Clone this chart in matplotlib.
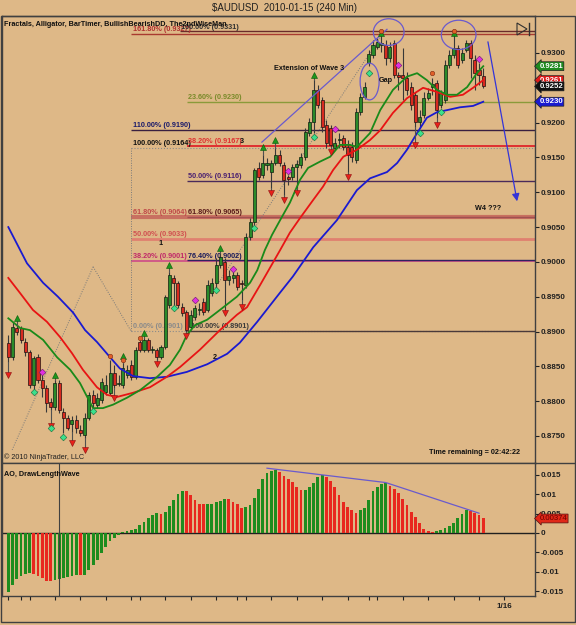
import matplotlib
matplotlib.use('Agg')
import matplotlib.pyplot as plt
import matplotlib.transforms as mtransforms
from matplotlib.patches import Ellipse, Rectangle, Polygon
from matplotlib.lines import Line2D
import numpy as np

W, H = 576, 625
BG = '#DEB887'
FONT = ['Liberation Sans', 'DejaVu Sans']
plt.rcParams['font.family'] = FONT

# ---------------- data ----------------
opens = [0.8884, 0.8863, 0.8905, 0.8905, 0.8885, 0.8871, 0.8823, 0.8863, 0.8830, 0.8819,
         0.8799, 0.8792, 0.8826, 0.8784, 0.8776, 0.8767, 0.8773, 0.8759, 0.8751, 0.8776,
         0.8809, 0.8795, 0.8802, 0.8813, 0.8812, 0.8840, 0.8825, 0.8823, 0.8838, 0.8852,
         0.8835, 0.8885, 0.8874, 0.8888, 0.8874, 0.8874, 0.8863, 0.8878, 0.8938, 0.8977,
         0.8970, 0.8935, 0.8928, 0.8907, 0.8921, 0.8931, 0.8942, 0.8931, 0.8955, 0.8970,
         0.8996, 0.9000, 0.8974, 0.8977, 0.8981, 0.8970, 0.8967, 0.9036, 0.9057, 0.9135,
         0.9125, 0.9139, 0.9129, 0.9142, 0.9154, 0.9139, 0.9122, 0.9122, 0.9136, 0.9139,
         0.9151, 0.9185, 0.9201, 0.9247, 0.9233, 0.9197, 0.9192, 0.9164, 0.9175, 0.9178,
         0.9165, 0.9165, 0.9146, 0.9215, 0.9237, 0.9286, 0.9297, 0.9309, 0.9311, 0.9311,
         0.9293, 0.9314, 0.9268, 0.9268, 0.9264, 0.9251, 0.9240, 0.9201, 0.9211, 0.9235,
         0.9251, 0.9257, 0.9225, 0.9233, 0.9283, 0.9297, 0.9307, 0.9290, 0.9304, 0.9314,
         0.9290, 0.9276, 0.9267]
closes = [0.8863, 0.8907, 0.8899, 0.8888, 0.8871, 0.8823, 0.8862, 0.8830, 0.8819, 0.8797,
          0.8792, 0.8826, 0.8787, 0.8776, 0.8762, 0.8773, 0.8762, 0.8754, 0.8776, 0.8809,
          0.8797, 0.8805, 0.8828, 0.8823, 0.8840, 0.8823, 0.8826, 0.8848, 0.8845, 0.8835,
          0.8874, 0.8874, 0.8888, 0.8874, 0.8875, 0.8863, 0.8878, 0.8950, 0.8981, 0.8970,
          0.8938, 0.8927, 0.8902, 0.8924, 0.8934, 0.8932, 0.8928, 0.8967, 0.8970, 0.8996,
          0.9007, 0.8974, 0.8980, 0.8981, 0.8964, 0.8968, 0.9036, 0.9057, 0.9132, 0.9122,
          0.9142, 0.9142, 0.9142, 0.9154, 0.9142, 0.9118, 0.9119, 0.9136, 0.9141, 0.9151,
          0.9187, 0.9201, 0.9247, 0.9225, 0.9194, 0.9171, 0.9168, 0.9171, 0.9177, 0.9165,
          0.9154, 0.9151, 0.9215, 0.9237, 0.9251, 0.9299, 0.9311, 0.9316, 0.9314, 0.9293,
          0.9309, 0.9268, 0.9266, 0.9264, 0.9247, 0.9225, 0.9201, 0.9208, 0.9235, 0.9243,
          0.9255, 0.9218, 0.9243, 0.9283, 0.9297, 0.9307, 0.9283, 0.9300, 0.9314, 0.9293,
          0.9271, 0.9268, 0.9252]
highs = [0.8895, 0.8914, 0.8909, 0.8908, 0.8891, 0.8874, 0.8865, 0.8868, 0.8838, 0.8823,
         0.8805, 0.8830, 0.8830, 0.8790, 0.8780, 0.8779, 0.8780, 0.8766, 0.8783, 0.8813,
         0.8816, 0.8812, 0.8833, 0.8838, 0.8859, 0.8852, 0.8838, 0.8855, 0.8852, 0.8859,
         0.8878, 0.8888, 0.8891, 0.8891, 0.8879, 0.8876, 0.8881, 0.8952, 0.8986, 0.8981,
         0.8972, 0.8941, 0.8931, 0.8931, 0.8938, 0.8941, 0.8948, 0.8974, 0.8977, 0.9006,
         0.9013, 0.9006, 0.8988, 0.8986, 0.8986, 0.8974, 0.9042, 0.9063, 0.9135, 0.9144,
         0.9154, 0.9149, 0.9146, 0.9164, 0.9161, 0.9144, 0.9125, 0.9141, 0.9146, 0.9156,
         0.9192, 0.9207, 0.9261, 0.9254, 0.9237, 0.9204, 0.9197, 0.9178, 0.9185, 0.9182,
         0.9175, 0.9172, 0.9221, 0.9243, 0.9258, 0.9304, 0.9319, 0.9322, 0.9329, 0.9319,
         0.9316, 0.9319, 0.9273, 0.9307, 0.9273, 0.9258, 0.9244, 0.9218, 0.9244, 0.9250,
         0.9264, 0.9261, 0.9247, 0.9290, 0.9304, 0.9329, 0.9311, 0.9307, 0.9319, 0.9319,
         0.9297, 0.9286, 0.9278]
lows = [0.8856, 0.8859, 0.8895, 0.8884, 0.8865, 0.8819, 0.8816, 0.8826, 0.8806, 0.8784,
        0.8787, 0.8787, 0.8783, 0.8754, 0.8759, 0.8756, 0.8754, 0.8750, 0.8747, 0.8773,
        0.8792, 0.8790, 0.8797, 0.8809, 0.8809, 0.8819, 0.8822, 0.8819, 0.8833, 0.8830,
        0.8832, 0.8871, 0.8871, 0.8871, 0.8869, 0.8859, 0.8861, 0.8875, 0.8934, 0.8938,
        0.8934, 0.8922, 0.8899, 0.8902, 0.8917, 0.8924, 0.8924, 0.8928, 0.8951, 0.8963,
        0.8991, 0.8931, 0.8967, 0.8970, 0.8960, 0.8945, 0.8963, 0.9031, 0.9053, 0.9118,
        0.9120, 0.9132, 0.9106, 0.9139, 0.9138, 0.9096, 0.9111, 0.9118, 0.9106, 0.9135,
        0.9146, 0.9181, 0.9185, 0.9221, 0.9187, 0.9164, 0.9165, 0.9161, 0.9164, 0.9161,
        0.9129, 0.9144, 0.9142, 0.9211, 0.9234, 0.9281, 0.9293, 0.9306, 0.9301, 0.9283,
        0.9287, 0.9264, 0.9247, 0.9233, 0.9240, 0.9218, 0.9194, 0.9192, 0.9207, 0.9233,
        0.9240, 0.9207, 0.9221, 0.9228, 0.9278, 0.9293, 0.9278, 0.9286, 0.9301, 0.9264,
        0.9247, 0.9254, 0.9250]

# Alligator lines (bar position, price)
jaw_x = [0, 4.4, 8.2, 11.7, 15.3, 18.1, 20.9, 24.0, 26.3, 29.4, 33.4, 37.4, 42.1, 46.9, 51.6,
         54.6, 58.7, 64.1, 67.1, 71.9, 77.5, 82.2, 85.3, 89.3, 91.7, 94.0, 96.4, 98.7, 101.1,
         103.5, 106.5, 109.6, 112]
jaw_y = [0.9050, 0.8998, 0.8970, 0.8950, 0.8927, 0.8902, 0.8885, 0.8863, 0.8847, 0.8836,
         0.8833, 0.8835, 0.8842, 0.8853, 0.8868, 0.8884, 0.8914, 0.8956, 0.8979, 0.9021,
         0.9060, 0.9103, 0.9120, 0.9129, 0.9142, 0.9161, 0.9185, 0.9207, 0.9215, 0.9218,
         0.9222, 0.9224, 0.9230]
teeth_x = [0, 2.8, 5.8, 9.1, 12.2, 15.0, 17.6, 20.9, 23.3, 25.6, 29.4, 33.4, 37.4, 40.5, 45.2,
           49.9, 53.9, 56.3, 59.4, 64.1, 66.4, 68.8, 71.9, 74.2, 76.6, 79.0, 82.2, 85.3, 87.7,
           90.7, 94.0, 97.8, 101.1, 104.2, 107.2, 109.6, 112]
teeth_y = [0.8977, 0.8955, 0.8931, 0.8914, 0.8892, 0.8869, 0.8845, 0.8820, 0.8809, 0.8806,
           0.8812, 0.8820, 0.8835, 0.8849, 0.8874, 0.8902, 0.8924, 0.8935, 0.8967, 0.9017,
           0.9042, 0.9063, 0.9089, 0.9108, 0.9132, 0.9151, 0.9161, 0.9175, 0.9189, 0.9214,
           0.9235, 0.9250, 0.9244, 0.9237, 0.9240, 0.9250, 0.9261]
lips_x = [0, 2.8, 5.1, 8.2, 11.5, 14.6, 16.9, 18.6, 20.0, 22.3, 24.7, 28.0, 31.1, 35.1, 38.1,
          40.5, 42.1, 44.0, 46.9, 49.9, 53.9, 57.0, 58.7, 60.5, 62.2, 64.1, 66.4, 68.8, 70.7,
          73.5, 75.9, 78.2, 80.6, 82.2, 85.3, 87.7, 90.7, 94.0, 96.4, 98.7, 101.1, 103.5,
          105.8, 108.2, 110.5, 112]
lips_y = [0.8919, 0.8905, 0.8902, 0.8888, 0.8863, 0.8845, 0.8826, 0.8806, 0.8790, 0.8790,
          0.8795, 0.8805, 0.8816, 0.8835, 0.8852, 0.8874, 0.8895, 0.8909, 0.8917, 0.8931,
          0.8950, 0.8970, 0.8988, 0.9017, 0.9039, 0.9060, 0.9085, 0.9118, 0.9135, 0.9144,
          0.9151, 0.9168, 0.9168, 0.9165, 0.9185, 0.9218, 0.9247, 0.9266, 0.9271, 0.9261,
          0.9247, 0.9240, 0.9240, 0.9251, 0.9271, 0.9281]

# Fractal / signal markers (bar, price)
up_arrow_bar = [2, 11, 27, 32, 38, 50, 60, 63, 72, 88, 105]
up_arrow_tip = [0.8919, 0.8838, 0.8865, 0.8898, 0.8996, 0.9020, 0.9165, 0.9175, 0.9268, 0.9329, 0.9329]
dn_arrow_bar = [0, 10, 15, 18, 25, 35, 42, 51, 55, 62, 65, 68, 76, 80, 96, 101]
dn_arrow_tip = [0.8838, 0.8764, 0.8740, 0.8730, 0.8805, 0.8853, 0.8894, 0.8927, 0.8935,
                0.9099, 0.9089, 0.9099, 0.9158, 0.9122, 0.9168, 0.9197]
orange_bar = [24, 27, 31, 88, 100, 105]
orange_val = [0.8865, 0.8859, 0.8891, 0.9331, 0.9271, 0.9331]
bull_bar = [6, 10, 13, 20, 39, 49, 58, 72, 85, 97, 102]
bull_val = [0.8813, 0.8762, 0.8749, 0.8786, 0.8934, 0.8960, 0.9048, 0.9179, 0.9271, 0.9185, 0.9215]
bear_bar = [8, 44, 53, 66, 77, 92, 111]
bear_val = [0.8842, 0.8945, 0.8990, 0.9130, 0.9191, 0.9283, 0.9291]

# Fibonacci levels: price, start bar, colour, width, style
fib_price = [0.9331, 0.9327, 0.9230, 0.9190, 0.9164, 0.9167, 0.9116, 0.9064, 0.9065, 0.9033, 0.9001, 0.9002, 0.8901, 0.8901]
fib_start = [40.5, 28.9, 42.1, 28.9, 28.9, 42.1, 42.1, 28.9, 42.1, 28.9, 28.9, 42.1, 28.9, 42.1]
fib_color = ['#6A2A2A', '#A83A30', '#8A9A3A', '#3A2040', '#8A8A8A', '#E03030', '#4A2A5A',
             '#C87060', '#A05050', '#E08070', '#D05A88', '#302060', '#8A8A8A', '#4A3A3A']
fib_lw = [1.0, 1.0, 1.0, 1.0, 0.8, 1.4, 1.0, 3.0, 1.0, 2.0, 1.4, 1.0, 0.8, 1.0]
fib_ls = ['-', '-', '-', '-', ':', '-', '-', '-', '-', '-', '-', '-', ':', '-']

fib_text = ['161.80% (0.9327)', '100.00% (0.9331)', '23.60% (0.9230)', '110.00% (0.9190)',
            '100.00% (0.9164)', '38.20% (0.9167)', '50.00% (0.9116)', '61.80% (0.9064)',
            '61.80% (0.9065)', '50.00% (0.9033)', '38.20% (0.9001)', '76.40% (0.9002)',
            '0.00% (0.8901)', '100.00% (0.8901)']
fib_text_price = [0.9327, 0.9331, 0.9230, 0.9190, 0.9164, 0.9167, 0.9116, 0.9064, 0.9065, 0.9033, 0.9001, 0.9002, 0.8901, 0.8901]
fib_text_bar = [29.4, 40.8, 42.3, 29.4, 29.4, 42.3, 42.3, 29.4, 42.3, 29.4, 29.4, 42.3, 29.4, 43.0]
fib_text_color = ['#B03030', '#303030', '#7A8A2A', '#1A1A6A', '#101010', '#E03030', '#4A2070',
                  '#C04848', '#5A1A1A', '#D05050', '#C02868', '#1A1A5A', '#8A8A8A', '#3A3A3A']

# Awesome Oscillator
ao = [-0.0151, -0.0134, -0.0119, -0.0111, -0.0106, -0.0104, -0.0105, -0.0111, -0.0117, -0.0123,
      -0.0125, -0.0121, -0.0119, -0.0115, -0.0113, -0.0110, -0.0108, -0.0109, -0.0107, -0.0095,
      -0.0082, -0.0070, -0.0051, -0.0035, -0.0021, -0.0012, -0.0005, 0.0003, 0.0005, 0.0007,
      0.0010, 0.0020, 0.0029, 0.0038, 0.0046, 0.0051, 0.0049, 0.0054, 0.0070, 0.0085,
      0.0100, 0.0108, 0.0107, 0.0097, 0.0085, 0.0076, 0.0074, 0.0075, 0.0076, 0.0079,
      0.0083, 0.0088, 0.0087, 0.0081, 0.0075, 0.0064, 0.0066, 0.0072, 0.0091, 0.0113,
      0.0138, 0.0155, 0.0161, 0.0162, 0.0157, 0.0147, 0.0138, 0.0131, 0.0119, 0.0111,
      0.0112, 0.0119, 0.0128, 0.0144, 0.0150, 0.0144, 0.0135, 0.0119, 0.0098, 0.0081,
      0.0068, 0.0058, 0.0052, 0.0058, 0.0065, 0.0085, 0.0107, 0.0119, 0.0127, 0.0129,
      0.0121, 0.0113, 0.0102, 0.0087, 0.0072, 0.0055, 0.0040, 0.0025, 0.0010, 0.0005,
      0.0002, 0.0004, 0.0007, 0.0012, 0.0019, 0.0027, 0.0038, 0.0049, 0.0058, 0.0057,
      0.0051, 0.0046, 0.00374]
ao_div_x = [61, 89, 111]
ao_div_y = [0.0167, 0.0130, 0.0051]

price_ticks = [0.8750, 0.8800, 0.8850, 0.8900, 0.8950, 0.9000, 0.9050, 0.9100, 0.9150, 0.9200, 0.9300]
ao_ticks = [0.015, 0.01, 0.005, 0, -0.005, -0.01, -0.015]
ao_tick_labels = ['0.015', '0.01', '0.005', '0', '-0.005', '-0.01', '-0.015']
day_ticks = [0, 3, 5, 11, 17, 23, 29, 31, 37, 43, 49, 54, 56, 62, 68, 74, 80, 85, 87, 93, 99, 105, 111, 117]
day_labels = [''] * 23 + ['1/16']

# ---------------- figure ----------------
fig = plt.figure(figsize=(W / 100, H / 100), dpi=100, facecolor=BG)


def fr(x0, y0, x1, y1):
    return [x0 / W, 1 - y1 / H, (x1 - x0) / W, (y1 - y0) / H]


ax = fig.add_axes(fr(2, 16, 535, 463))
ax2 = fig.add_axes(fr(2, 463, 535, 596))
for a in (ax, ax2):
    a.set_facecolor(BG)
    for s in a.spines.values():
        s.set_color('#404040')
        s.set_linewidth(1.0)
XL = (-1.49, 124.2)
ax.set_xlim(XL)
ax2.set_xlim(XL)
ax.set_ylim(0.87112, 0.93531)
ax2.set_ylim(-0.01624, 0.01804)

TXT = dict(fontsize=5.2, fontweight='bold')

# fib lines
for p, s, col, lw, ls in zip(fib_price, fib_start, fib_color, fib_lw, fib_ls):
    ax.plot([s, XL[1]], [p, p], color=col, lw=lw, ls=ls, zorder=1.5, solid_capstyle='butt')
for t, p, b, col in zip(fib_text, fib_text_price, fib_text_bar, fib_text_color):
    ax.text(b, p + 0.00012, t, color=col, ha='left', va='bottom', zorder=2, **TXT)

# dotted construction lines
DOT = dict(color='#7A7A7A', lw=0.7, ls=(0, (1, 1.5)), zorder=1.6)
ax.plot([0.9, 20.0], [0.8730, 0.8993], **DOT)
ax.plot([20.0, 28.9], [0.8993, 0.8901], **DOT)
ax.plot([28.9, 28.9], [0.8901, 0.9164], **DOT)
ax.plot([42.1, 88.4], [0.8901, 0.9329], **DOT)

# candles
idx = np.arange(len(opens))
o = np.array(opens); c = np.array(closes); hh = np.array(highs); ll = np.array(lows)
up = c >= o
ax.vlines(idx, ll, hh, color='#383838', lw=0.8, zorder=3)
ax.bar(idx[up], np.maximum((c - o)[up], 0.00006), bottom=o[up], width=0.72, color='#2A8A2A',
       edgecolor='#102010', lw=0.5, zorder=3.5)
ax.bar(idx[~up], (o - c)[~up], bottom=c[~up], width=0.72, color='#D82A20',
       edgecolor='#201010', lw=0.5, zorder=3.5)

# alligator
ax.plot(jaw_x, jaw_y, color='#1A1AD0', lw=1.3, zorder=4)
ax.plot(teeth_x, teeth_y, color='#E81414', lw=1.3, zorder=4)
ax.plot(lips_x, lips_y, color='#1A8A1A', lw=1.3, zorder=4)

# fractal arrows
for b, t in zip(up_arrow_bar, up_arrow_tip):
    ax.plot([b, b], [hh[b], t], color='#505050', lw=0.8, zorder=5)
ax.plot(up_arrow_bar, up_arrow_tip, marker='^', ls='none', ms=4.5, color='#1C961C',
        mec='#0A5A0A', mew=0.4, zorder=6)
for b, t in zip(dn_arrow_bar, dn_arrow_tip):
    ax.plot([b, b], [ll[b], t], color='#505050', lw=0.8, zorder=5)
ax.plot(dn_arrow_bar, dn_arrow_tip, marker='v', ls='none', ms=4.5, color='#E8201A',
        mec='#8A1010', mew=0.4, zorder=6)
ax.plot(orange_bar, orange_val, marker='o', ls='none', ms=3.2, color='#E0602A', mec='#7A2A10', mew=0.4, zorder=6.5)
ax.plot(bull_bar, bull_val, marker='D', ls='none', ms=3.4, color='#3CE08C', mec='#1A6A3A', mew=0.4, zorder=6.5)
ax.plot(bear_bar, bear_val, marker='D', ls='none', ms=3.4, color='#E030E0', mec='#6A1A6A', mew=0.4, zorder=6.5)

# drawings
PUR = '#6A5ACD'
ax.plot([59.8, 89.3], [0.9172, 0.9334], color=PUR, lw=0.9, zorder=4.5)
ax.add_patch(Ellipse((89.7, 0.9330), 7.24, 0.00383, fill=False, ec=PUR, lw=0.9, zorder=7))
ax.add_patch(Ellipse((106.2, 0.9326), 8.18, 0.00421, fill=False, ec=PUR, lw=0.9, zorder=7))
ax.add_patch(Ellipse((85.2, 0.9259), 4.48, 0.00527, fill=False, ec=PUR, lw=0.9, zorder=7))
ax.annotate('', xy=(119.98, 0.9087), xytext=(113.1, 0.9316),
            arrowprops=dict(arrowstyle='-|>', color='#3434D8', lw=0.9, mutation_scale=11,
                            shrinkA=0, shrinkB=0), zorder=7)

# annotations
ax.text(62.7, 0.9278, 'Extension of Wave 3', color='#101010', ha='left', va='center', zorder=8, **TXT)
ax.text(87.4, 0.9261, 'Gap', color='#101010', ha='left', va='center', zorder=8, **TXT)
ax.text(110.1, 0.9076, 'W4 ???', color='#101010', ha='left', va='center', zorder=8, **TXT)
ax.text(48.7, 0.8863, '2', color='#101010', ha='center', va='center', zorder=8, **TXT)
ax.text(36.0, 0.9031, '1', color='#101010', ha='center', va='top', zorder=8, **TXT)
ax.text(54.7, 0.9168, '3', color='#101010', ha='left', va='bottom', zorder=8, **TXT)
ax.text(0.004, 0.982, 'Fractals, Alligator, BarTimer, BullishBearishDD, The2ndWiseMan',
        transform=ax.transAxes, color='#101010', ha='left', va='center', zorder=9, **TXT)
ax.text(0.801, 0.0224, 'Time remaining = 02:42:22', transform=ax.transAxes, color='#101010',
        ha='left', va='center', zorder=9, **TXT)
ax.text(0.004, 0.0134, '\u00a9 2010 NinjaTrader, LLC', transform=ax.transAxes, color='#202020',
        ha='left', va='center', fontsize=5.2, zorder=9)

# price axis
ax.set_xticks([])
ax.yaxis.tick_right()
ax.set_yticks(price_ticks)
ax.set_yticklabels(['%.4f' % v for v in price_ticks])
ax.tick_params(axis='y', direction='out', length=3, width=0.8, colors='#202020', labelsize=5.8, pad=1.2)
for lbl in ax.get_yticklabels():
    lbl.set_fontweight('bold')

trans_r = mtransforms.blended_transform_factory(ax.transAxes, ax.transData)
tags = [(lips_y[-1], '#1E8A1E', 'white'), (teeth_y[-1], '#E01818', 'white'),
        (closes[-1], '#101010', 'white'), (jaw_y[-1], '#1A1AD0', 'white')]
for k, (v, fc, tc) in enumerate(tags):
    ax.text(1.008, v, '%.4f' % v, transform=trans_r, ha='left', va='center', color=tc,
            fontsize=5.6, fontweight='bold', clip_on=False, zorder=20 + k,
            bbox=dict(boxstyle='larrow,pad=0.12', fc=fc, ec='#202020', lw=0.5))

# AO panel
aov = np.array(ao)
cols = ['#1E8C1E' if (k == 0 or aov[k] > aov[k - 1]) else '#E8281E' for k in range(len(aov))]
ax2.bar(idx, aov, width=0.66, color=cols, zorder=3)
ax2.axhline(0, color='#202020', lw=1.0, zorder=2)
ax2.axvline(11.96, color='#404040', lw=0.8, zorder=4)
ax2.plot(ao_div_x, ao_div_y, color=PUR, lw=0.9, zorder=5)
ax2.yaxis.tick_right()
ax2.set_yticks(ao_ticks)
ax2.set_yticklabels(ao_tick_labels)
ax2.tick_params(axis='y', direction='out', length=3, width=0.8, colors='#202020', labelsize=5.8, pad=1.2)
for lbl in ax2.get_yticklabels():
    lbl.set_fontweight('bold')
ax2.set_xticks(day_ticks)
ax2.set_xticklabels(day_labels)
ax2.tick_params(axis='x', direction='out', length=3, width=0.8, colors='#202020', labelsize=5.8, pad=2)
for lbl in ax2.get_xticklabels():
    lbl.set_fontweight('bold')
trans_r2 = mtransforms.blended_transform_factory(ax2.transAxes, ax2.transData)
ax2.text(1.008, ao[-1], '%.5f' % ao[-1], transform=trans_r2, ha='left', va='center', color='#6A0000',
         fontsize=5.6, clip_on=False, zorder=20,
         bbox=dict(boxstyle='larrow,pad=0.12', fc='#E02818', ec='#501010', lw=0.5))
ax2.text(0.004, 0.917, 'AO, DrawLengthWave', transform=ax2.transAxes, color='#101010',
         ha='left', va='center', zorder=9, **TXT)

# outer frame and title
fig.add_artist(Rectangle((1 / W, 1 - 622 / H), 574 / W, 606 / H, fill=False, ec='#404040', lw=1.0,
                         transform=fig.transFigure))
fig.add_artist(Line2D([535 / W, 575 / W], [1 - 463 / H, 1 - 463 / H], color='#404040', lw=1.0,
                      transform=fig.transFigure))
fig.add_artist(Polygon([(517 / W, 1 - 23 / H), (527 / W, 1 - 29 / H), (517 / W, 1 - 35 / H)], closed=True,
                       fill=False, ec='#303030', lw=0.8, transform=fig.transFigure))
fig.add_artist(Line2D([529 / W, 529 / W], [1 - 23 / H, 1 - 35 / H], color='#303030', lw=1.0,
                      transform=fig.transFigure))
fig.text(285 / W, 1 - 8 / H, '\\$AUDUSD  2010-01-15 (240 Min)', ha='center', va='center',
         fontsize=7, color='#202020')

fig.savefig('out.png', dpi=100, facecolor=BG)
